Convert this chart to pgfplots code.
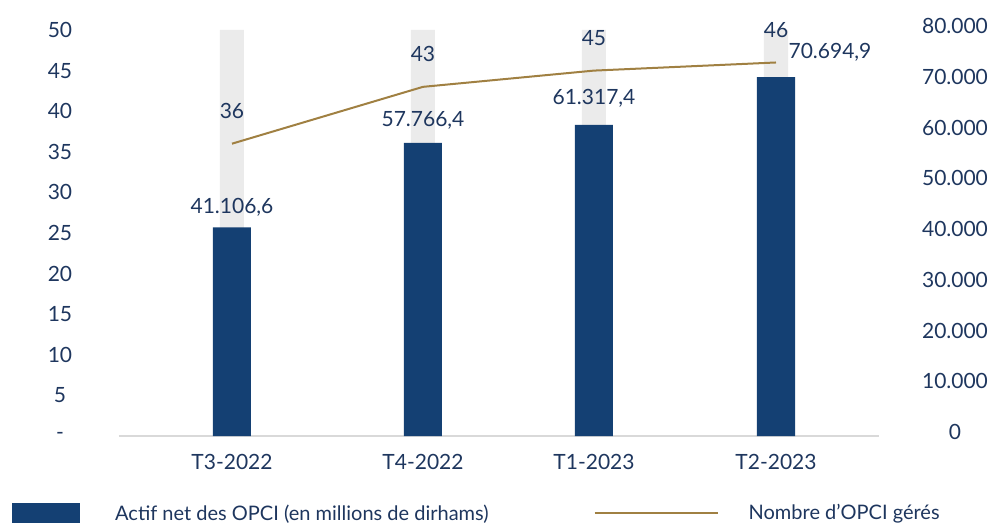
\documentclass[border=0pt]{standalone}
\usepackage{fontspec}
\setmainfont{Lato}
\usepackage{pgfplots}
\usepackage{pgfplotstable}
\pgfplotsset{compat=1.18}

\definecolor{barblue}{RGB}{20,64,115}
\definecolor{bargray}{RGB}{235,235,235}
\definecolor{linegold}{RGB}{160,128,66}
\definecolor{txt}{RGB}{30,54,94}
\definecolor{axisgray}{RGB}{217,217,217}

\newcommand\lbfont{\fontsize{21bp}{25bp}\selectfont}
\newcommand\lgfont{\fontsize{20bp}{24bp}\selectfont}

% x = category position (units of the original picture), dx/dy = label offset
\pgfplotstableread{
x   actif     bg     lbl       dx  dy
232 41106.6   80000  41.106,6  0   14
423 57766.4   80000  57.766,4  0   16
594 61317.4   80000  61.317,4  0   20
776 70694.9   80000  70.694,9  54  19
}\actif

\pgfplotstableread{
x   n   lbl
232 36  36
423 43  43
594 45  45
776 46  46
}\opci

\begin{document}
\begin{tikzpicture}[font=\lbfont]
% right axis: actif net (bars)
\begin{axis}[
    name=ax,
    scale only axis, width=760bp, height=406bp,
    xmin=119, xmax=879, ymin=0, ymax=80000,
    axis y line*=right, axis x line*=bottom,
    y axis line style={draw=none},
    x axis line style={draw=axisgray, line width=1.5bp, -},
    major tick length=0pt,
    scaled y ticks=false,
    xtick={232,423,594,776},
    xticklabels={T3-2022,T4-2022,T1-2023,T2-2023},
    ytick={0,10000,20000,30000,40000,50000,60000,70000,80000},
    yticklabels={0,10.000,20.000,30.000,40.000,50.000,60.000,70.000,80.000},
    xticklabel style={anchor=base, yshift=-33bp},
    yticklabel style={anchor=center, xshift=76bp, yshift=4bp},
    tick label style={font=\lbfont, text=txt},
    clip=false,
    legend columns=2,
    legend cell align=left,
    legend style={at={(-0.1408,-0.1897)}, anchor=west, draw=none, fill=none,
        inner sep=0pt, font=\lgfont, text=txt, nodes={inner sep=0pt},
        /tikz/column 1/.style={column sep=35bp},
        /tikz/column 2/.style={column sep=105bp},
        /tikz/column 3/.style={column sep=30bp}},
]
\addplot[ybar, bar width=24bp, bar shift=0pt, fill=bargray, draw=none, forget plot]
    table[x=x, y=bg] {\actif};
\addplot[ybar, bar width=38bp, bar shift=0pt, fill=barblue, draw=none,
    legend image code/.code={\fill[barblue] (0bp,-10bp) rectangle (68bp,10bp);},
    point meta=explicit symbolic,
    nodes near coords,
    visualization depends on={\thisrow{dx}\as\dx},
    visualization depends on={\thisrow{dy}\as\dy},
    every node near coord/.append style={anchor=base, xshift=\dx bp, yshift=\dy bp,
        text=txt, font=\lbfont},
] table[x=x, y=actif, meta=lbl] {\actif};
\addlegendentry{Actif net des OPCI (en millions de dirhams)}
\addlegendimage{linegold, line width=2bp,
    legend image code/.code={\draw[linegold, line width=2bp] (0bp,0bp) -- (123bp,0bp);}}
\addlegendentry{Nombre d’OPCI gérés}
\end{axis}

% left axis: nombre d'OPCI (line)
\begin{axis}[
    scale only axis, width=760bp, height=406bp,
    xmin=119, xmax=879, ymin=0, ymax=50,
    hide x axis,
    axis y line*=left, y axis line style={draw=none},
    major tick length=0pt,
    ytick={0,5,10,15,20,25,30,35,40,45,50},
    yticklabels={-,5,10,15,20,25,30,35,40,45,50},
    yticklabel style={anchor=center, xshift=-59bp, font=\lbfont, text=txt},
    clip=false,
]
\addplot[linegold, line width=2bp, sharp plot, mark=none,
    point meta=explicit symbolic, nodes near coords,
    every node near coord/.append style={anchor=base, yshift=25bp, text=txt, font=\lbfont},
] table[x=x, y=n, meta=lbl] {\opci};
\end{axis}

\pgfresetboundingbox
\useasboundingbox ([shift={(-119bp,-88bp)}]ax.south west) rectangle ++(992bp,524bp);
\end{tikzpicture}
\end{document}
